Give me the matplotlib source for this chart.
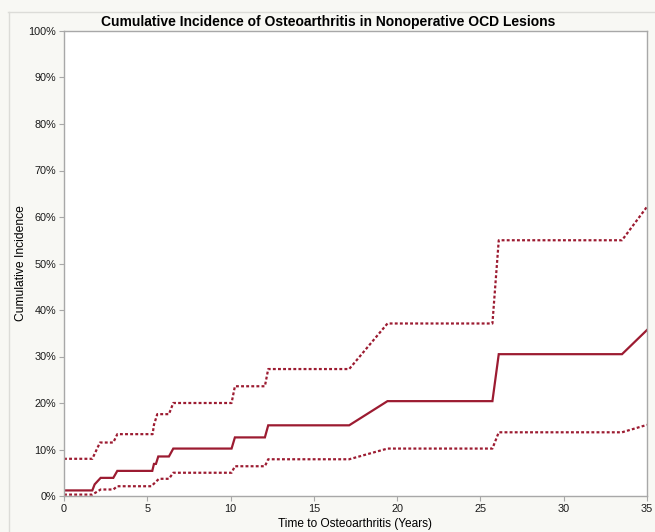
import matplotlib
matplotlib.use("Agg")
import matplotlib.pyplot as plt
from matplotlib.lines import Line2D
from matplotlib.ticker import FuncFormatter, MultipleLocator

plt.rcParams["font.family"] = ["Liberation Sans", "DejaVu Sans"]

# cumulative incidence (%) vs years
est_t = [0, 1.7, 1.84, 2.2, 2.96, 3.2, 5.3, 5.4, 5.52, 5.66, 6.3, 6.56,
         10.06, 10.26, 12.06, 12.26, 17.12, 19.42, 25.72, 26.1, 33.5, 35]
est_y = [1.2, 1.2, 2.5, 3.9, 3.9, 5.4, 5.4, 6.9, 6.9, 8.5, 8.5, 10.2,
         10.2, 12.6, 12.6, 15.2, 15.2, 20.4, 20.4, 30.5, 30.5, 35.7]

upper_t = [0, 1.7, 2.16, 2.96, 3.2, 5.32, 5.4, 5.6, 6.3, 6.56, 10.06, 10.26,
           12.06, 12.26, 17.12, 19.42, 25.72, 26.1, 33.5, 35]
upper_y = [8.0, 8.0, 11.5, 11.5, 13.3, 13.3, 15.3, 17.6, 17.6, 20.0, 20.0, 23.6,
           23.6, 27.3, 27.3, 37.1, 37.1, 55.0, 55.0, 62.2]

lower_t = [0, 1.7, 2.2, 2.96, 3.2, 5.24, 5.7, 6.3, 6.56, 10.06, 10.26,
           12.06, 12.26, 17.12, 19.42, 25.72, 26.1, 33.5, 35]
lower_y = [0.3, 0.3, 1.4, 1.4, 2.1, 2.1, 3.7, 3.7, 5.0, 5.0, 6.4,
           6.4, 7.9, 7.9, 10.2, 10.2, 13.7, 13.7, 15.3]

RED = "#9c1b31"
BG = "#f8f8f4"
SPINE = "#a8a8a8"
W, H = 655, 532

fig = plt.figure(figsize=(W / 100, H / 100), dpi=100, facecolor=BG)

# panel frame lines (top and left)
fig.add_artist(Line2D([8 / W, 1], [1 - 12 / H] * 2, color="#dcdcd8", lw=1))
fig.add_artist(Line2D([9 / W] * 2, [0, 1 - 12 / H], color="#dcdcd8", lw=1))

ax = fig.add_axes([64 / W, 36 / H, (647 - 64) / W, (496 - 31) / H])
ax.set_facecolor("white")

ax.plot(est_t, est_y, color=RED, lw=1.6, solid_joinstyle="miter")
ax.plot(upper_t, upper_y, color=RED, lw=1.6, linestyle=(0, (1.3, 1.0)))
ax.plot(lower_t, lower_y, color=RED, lw=1.6, linestyle=(0, (1.3, 1.0)))

ax.set_xlim(0, 35)
ax.set_ylim(0, 100)
ax.xaxis.set_major_locator(MultipleLocator(5))
ax.yaxis.set_major_locator(MultipleLocator(10))
ax.yaxis.set_major_formatter(FuncFormatter(lambda v, _: f"{v:.0f}%"))

for s in ax.spines.values():
    s.set_color(SPINE)
    s.set_linewidth(1.0)
ax.tick_params(axis="both", direction="out", length=3.8, width=0.8,
               color=SPINE, labelsize=7.8, labelcolor="#1a1a1a", pad=2)

ax.set_xlabel("Time to Osteoarthritis (Years)", fontsize=8.6)
ax.set_ylabel("Cumulative Incidence", fontsize=8.7)
ax.xaxis.set_label_coords(0.5, -0.047)
ax.yaxis.set_label_coords(-0.064, 0.5)

fig.text(328 / W, 1 - 26 / H,
         "Cumulative Incidence of Osteoarthritis in Nonoperative OCD Lesions",
         ha="center", va="baseline", fontsize=10, weight="bold", color="black")

fig.savefig("out.png", dpi=100, facecolor=BG)
